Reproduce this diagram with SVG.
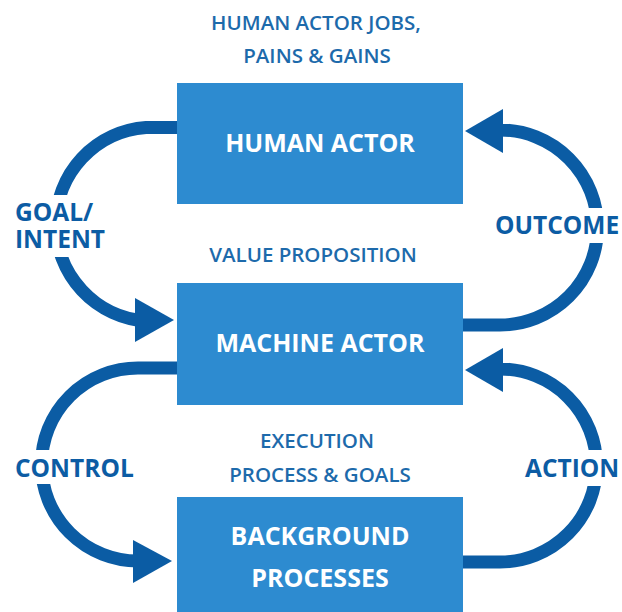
<svg xmlns="http://www.w3.org/2000/svg" width="622" height="612" viewBox="0 0 622 612">
<style>
.box{fill:#2d8bd0;}
.bt{fill:#ffffff;font-family:"Open Sans","Noto Sans","Liberation Sans",sans-serif;font-weight:bold;font-size:25px;text-anchor:middle;}
.sub{fill:#1d6aab;font-family:"Open Sans","Noto Sans","Liberation Sans",sans-serif;font-weight:600;font-size:20.5px;text-anchor:middle;}
.lbl{fill:#0c5ca4;font-family:"Open Sans","Noto Sans","Liberation Sans",sans-serif;font-weight:bold;font-size:24.5px;}
.arc{fill:none;stroke:#0b5ca4;stroke-width:13;}
.head{fill:#0b5ca4;}
.bg{fill:#ffffff;}
</style>
<g id="connectors">
  <path class="arc" d="M178,127.5 H146 A97,97 0 0 0 146,321 H137"/>
  <polygon class="head" points="174,320 135,298 135,342"/>
  <path class="arc" d="M462,325 H500 A97.5,97.5 0 0 0 500,130 H502"/>
  <polygon class="head" points="465,131 503,109 503,153"/>
  <path class="arc" d="M178,368 H138 A96.5,96.5 0 0 0 138,561 H134"/>
  <polygon class="head" points="172,561 133,540 133,583"/>
  <path class="arc" d="M462,562 H500 A96.5,96.5 0 0 0 500,369 H502"/>
  <polygon class="head" points="465,370 503,348 503,392"/>
</g>
<g id="goal-label">
  <rect class="bg" x="14" y="195" width="98" height="62"/>
  <text class="lbl" x="15" y="221">GOAL/</text>
  <text class="lbl" x="15" y="248">INTENT</text>
</g>
<g id="outcome-label">
  <rect class="bg" x="490" y="208" width="132" height="35"/>
  <text class="lbl" x="495" y="234">OUTCOME</text>
</g>
<g id="control-label">
  <rect class="bg" x="13" y="450" width="130" height="34"/>
  <text class="lbl" x="15" y="477">CONTROL</text>
</g>
<g id="action-label">
  <rect class="bg" x="518" y="450" width="104" height="36"/>
  <text class="lbl" x="525" y="477">ACTION</text>
</g>
<g id="human-actor">
  <text class="sub" x="316" y="30">HUMAN ACTOR JOBS,</text>
  <text class="sub" x="317" y="63">PAINS &amp; GAINS</text>
  <rect class="box" x="177" y="83" width="286" height="121"/>
  <text class="bt" x="320" y="152">HUMAN ACTOR</text>
</g>
<g id="machine-actor">
  <text class="sub" x="313" y="262">VALUE PROPOSITION</text>
  <rect class="box" x="177" y="283" width="286" height="122"/>
  <text class="bt" x="320" y="352">MACHINE ACTOR</text>
</g>
<g id="background-processes">
  <text class="sub" x="317" y="448">EXECUTION</text>
  <text class="sub" x="320" y="482">PROCESS &amp; GOALS</text>
  <rect class="box" x="177" y="497" width="286" height="120"/>
  <text class="bt" x="320" y="545">BACKGROUND</text>
  <text class="bt" x="320" y="587">PROCESSES</text>
</g>
</svg>
